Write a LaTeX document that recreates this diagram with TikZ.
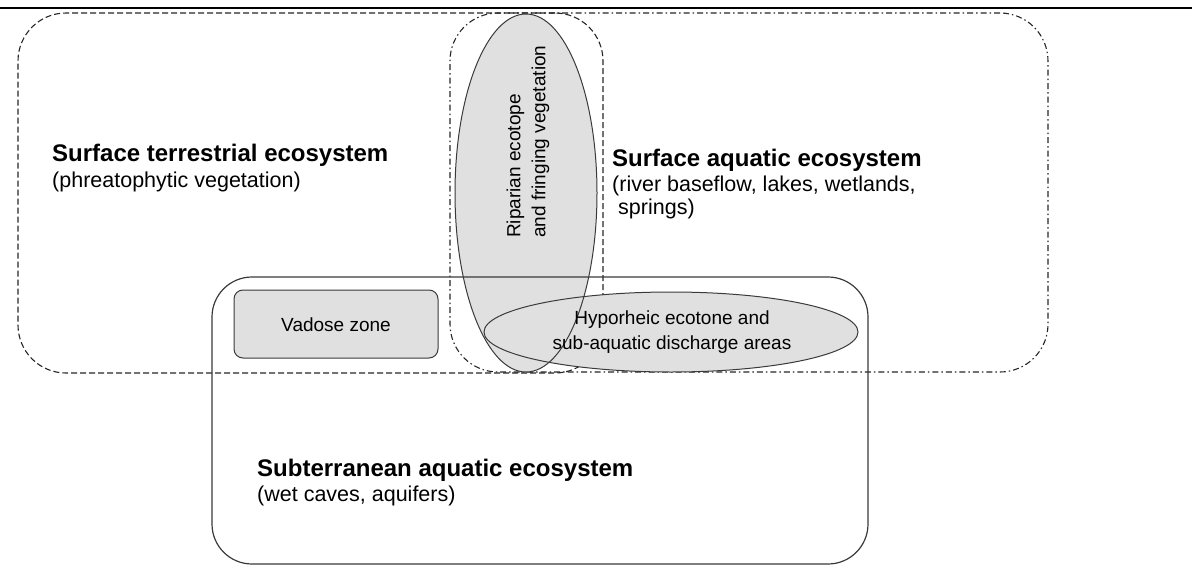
\documentclass[tikz,border=0pt]{standalone}
\usepackage{fontspec}
\setmainfont{Liberation Sans}
\usetikzlibrary{shapes.geometric}
\definecolor{shade}{HTML}{E0E0E0}
\definecolor{edge}{HTML}{3A3A3A}
\begin{document}
\begin{tikzpicture}[x=1pt,y=-1pt,
  terrbox/.style={draw=black!85, line width=1.1pt, dash pattern=on 6pt off 3pt, rounded corners=48pt, minimum width=585pt, minimum height=360pt, inner sep=0pt},
  aquabox/.style={draw=black!85, line width=1.1pt, dash pattern=on 6pt off 3pt on 1.5pt off 3pt, rounded corners=48pt, minimum width=598pt, minimum height=359pt, inner sep=0pt},
  subbox/.style={draw=edge, line width=1.2pt, rounded corners=40pt, minimum width=656pt, minimum height=287pt, inner sep=0pt},
  zonefill/.style={fill=shade, inner sep=0pt},
  zoneline/.style={draw=edge, line width=1pt, inner sep=0pt},
  title/.style={font=\fontsize{24}{28}\selectfont\bfseries, anchor=west, inner sep=0pt},
  subtitle/.style={font=\fontsize{21.5}{26}\selectfont, anchor=west, inner sep=0pt},
  small/.style={font=\fontsize{19}{25}\selectfont, inner sep=0pt}
]
\useasboundingbox (0,0) rectangle (1192,573);
% top rule
\coordinate (ruleL) at (0,8);
\coordinate (ruleR) at (1192,8);
\draw[line width=2.5pt] (ruleL) -- (ruleR);
% surface boxes
\node[terrbox] (terr) at (310.5,193) {};
\node[aquabox] (aqua) at (749,192.5) {};
% fills
\node[ellipse, zonefill, minimum width=142pt, minimum height=358pt] (riparian) at (526,193) {};
\node[ellipse, zonefill, minimum width=374pt, minimum height=80pt] (hypo) at (671,332) {};
\node[zonefill, rounded corners=9pt, minimum width=204pt, minimum height=68pt] (vadose) at (336,324) {};
% subterranean box
\node[subbox] (subt) at (540,420.5) {};
% outlines
\node[ellipse, zoneline, minimum width=142pt, minimum height=358pt] (riparianEdge) at (riparian.center) {};
\node[ellipse, zoneline, minimum width=374pt, minimum height=80pt] (hypoEdge) at (hypo.center) {};
\node[zoneline, rounded corners=9pt, minimum width=204pt, minimum height=68pt] (vadoseEdge) at (vadose.center) {};
% texts
\node[title] (terrT) at (52,155) {Surface terrestrial ecosystem};
\node[subtitle] (terrS) at (52,182) {(phreatophytic vegetation)};
\node[title] (aquaT) at (612,160) {Surface aquatic ecosystem};
\node[subtitle] (aquaS1) at (612,186) {(river baseflow, lakes, wetlands,};
\node[subtitle] (aquaS2) at (618,209) {springs)};
\node[title] (subtT) at (257,470) {Subterranean aquatic ecosystem};
\node[subtitle] (subtS) at (257,496) {(wet caves, aquifers)};
\node[small] (vadoseT) at (336,325) {Vadose zone};
\node[small, align=center] (hypoT) at (672,332) {Hyporheic ecotone and\\sub-aquatic discharge areas};
\node[small, align=left, rotate=90, anchor=west] (ripT) at (528,238) {Riparian ecotope\\and fringing vegetation};
\end{tikzpicture}
\end{document}
